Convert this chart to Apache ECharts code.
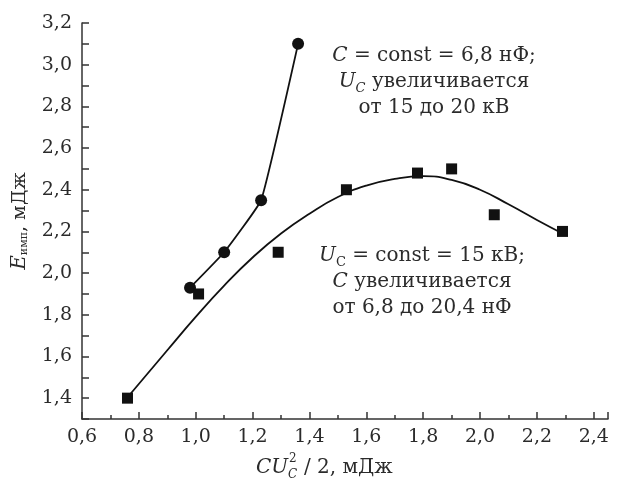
<!DOCTYPE html>
<html>
<head>
<meta charset="utf-8">
<script src="https://cdn.jsdelivr.net/npm/echarts@6/dist/echarts.min.js"></script>
<style>
html,body{margin:0;padding:0;background:#fff;}
#chart{width:617px;height:481px;}
</style>
</head>
<body>
<div id="chart"></div>
<script>
// C = const = 6,8 nF, U_C grows (circles)
var circleX = [0.98, 1.10, 1.23, 1.36];
var circleY = [1.93, 2.10, 2.35, 3.10];
// U_C = const = 15 kV, C grows (squares)
var squareX = [0.76, 1.01, 1.29, 1.53, 1.78, 1.90, 2.05, 2.29];
var squareY = [1.40, 1.90, 2.10, 2.40, 2.48, 2.50, 2.28, 2.20];
// fitted curve through the squares
var fitX = [0.77, 0.90, 1.00, 1.10, 1.20, 1.30, 1.40, 1.50, 1.60, 1.70, 1.80, 1.90, 2.00, 2.10, 2.20, 2.29];
var fitY = [1.42, 1.63, 1.79, 1.94, 2.075, 2.19, 2.285, 2.365, 2.42, 2.452, 2.465, 2.447, 2.40, 2.33, 2.255, 2.19];

var FONT = 'DejaVu Serif';
var TXT = '#2b2b2b';
var INK = '#111';

function pairs(xs, ys) {
  return xs.map(function (x, i) { return [x, ys[i]]; });
}
function comma(v) {
  return v.toFixed(1).replace('.', ',');
}

var chart = echarts.init(document.getElementById('chart'));
var annoRich = {
  i: {fontFamily: FONT, fontSize: 20, fontStyle: 'italic', fill: TXT},
  sub: {fontFamily: FONT, fontSize: 13, fontStyle: 'italic', fill: TXT, verticalAlign: 'bottom', lineHeight: 14},
  subr: {fontFamily: FONT, fontSize: 13, fill: TXT, verticalAlign: 'bottom', lineHeight: 14}
};

var option = {
  backgroundColor: '#fff',
  animation: false,
  grid: {left: 82, right: 9, top: 23, bottom: 62},
  xAxis: {
    type: 'value',
    min: 0.6,
    max: 2.45,
    interval: 0.2,
    splitLine: {show: false},
    axisLine: {onZero: false, lineStyle: {color: '#333', width: 1.5}},
    axisTick: {inside: true, length: 7, lineStyle: {color: '#333', width: 1.5}},
    minorTick: {show: true, splitNumber: 2, length: 4, lineStyle: {color: '#333', width: 1.5}},
    axisLabel: {
      margin: 9,
      fontFamily: FONT, fontSize: 19, color: TXT,
      formatter: function (v) {
        return Math.abs(v * 10 - Math.round(v * 10)) < 1e-6 ? comma(v) : '';
      }
    }
  },
  yAxis: {
    type: 'value',
    min: 1.3,
    max: 3.2,
    interval: 0.1,
    splitLine: {show: false},
    axisLine: {onZero: false, lineStyle: {color: '#333', width: 1.5}},
    axisTick: {inside: true, length: 7, lineStyle: {color: '#333', width: 1.5}},
    axisLabel: {
      margin: 10,
      fontFamily: FONT, fontSize: 19, color: TXT,
      formatter: function (v) {
        return Math.round(v * 10) % 2 === 0 ? comma(v) : '';
      }
    },
    name: '{i|E}{sub|имп}, мДж',
    nameLocation: 'middle',
    nameRotate: 90,
    nameGap: 52,
    nameTextStyle: {
      fontFamily: FONT, fontSize: 19, color: TXT,
      rich: {
        i: {fontFamily: FONT, fontSize: 20, fontStyle: 'italic', color: TXT},
        sub: {fontFamily: FONT, fontSize: 11, color: TXT, verticalAlign: 'bottom', lineHeight: 12}
      }
    }
  },
  graphic: [
    {
      type: 'text', x: 434, y: 43,
      style: {
        text: '{i|C} = const = 6,8 нФ;\n{i|U}{sub|C} увеличивается\nот 15 до 20 кВ',
        align: 'center', verticalAlign: 'top',
        fontFamily: FONT, fontSize: 20, fill: TXT, lineHeight: 26,
        rich: annoRich
      }
    },
    {
      type: 'text', x: 422, y: 243,
      style: {
        text: '{i|U}{subr|C} = const = 15 кВ;\n{i|C} увеличивается\nот 6,8 до 20,4 нФ',
        align: 'center', verticalAlign: 'top',
        fontFamily: FONT, fontSize: 20, fill: TXT, lineHeight: 26,
        rich: annoRich
      }
    },
    // x axis title: C U^2_C / 2, мДж
    {
      type: 'group', x: 256, y: 458,
      children: [
        {type: 'text', x: 0, y: 0, style: {text: 'CU', fontFamily: FONT, fontSize: 20, fontStyle: 'italic', fill: TXT}},
        {type: 'text', x: 33, y: -5, style: {text: '2', fontFamily: FONT, fontSize: 12, fill: TXT}},
        {type: 'text', x: 32, y: 11, style: {text: 'C', fontFamily: FONT, fontSize: 12, fontStyle: 'italic', fill: TXT}},
        {type: 'text', x: 48, y: 0, style: {text: '/ 2, мДж', fontFamily: FONT, fontSize: 20, fill: TXT}}
      ]
    }
  ],
  series: [
    {
      type: 'line',
      data: pairs(fitX, fitY),
      smooth: 0.5,
      smoothConstraint: false,
      showSymbol: false,
      lineStyle: {color: INK, width: 1.8},
      z: 1
    },
    {
      type: 'line',
      data: pairs(circleX, circleY),
      smooth: 0.1,
      symbol: 'circle',
      symbolSize: 12,
      itemStyle: {color: INK, opacity: 1},
      lineStyle: {color: INK, width: 1.8},
      z: 2
    },
    {
      type: 'scatter',
      data: pairs(squareX, squareY),
      symbol: 'rect',
      symbolSize: 11,
      itemStyle: {color: INK, opacity: 1},
      z: 3
    }
  ]
};
chart.setOption(option);
</script>
</body>
</html>
